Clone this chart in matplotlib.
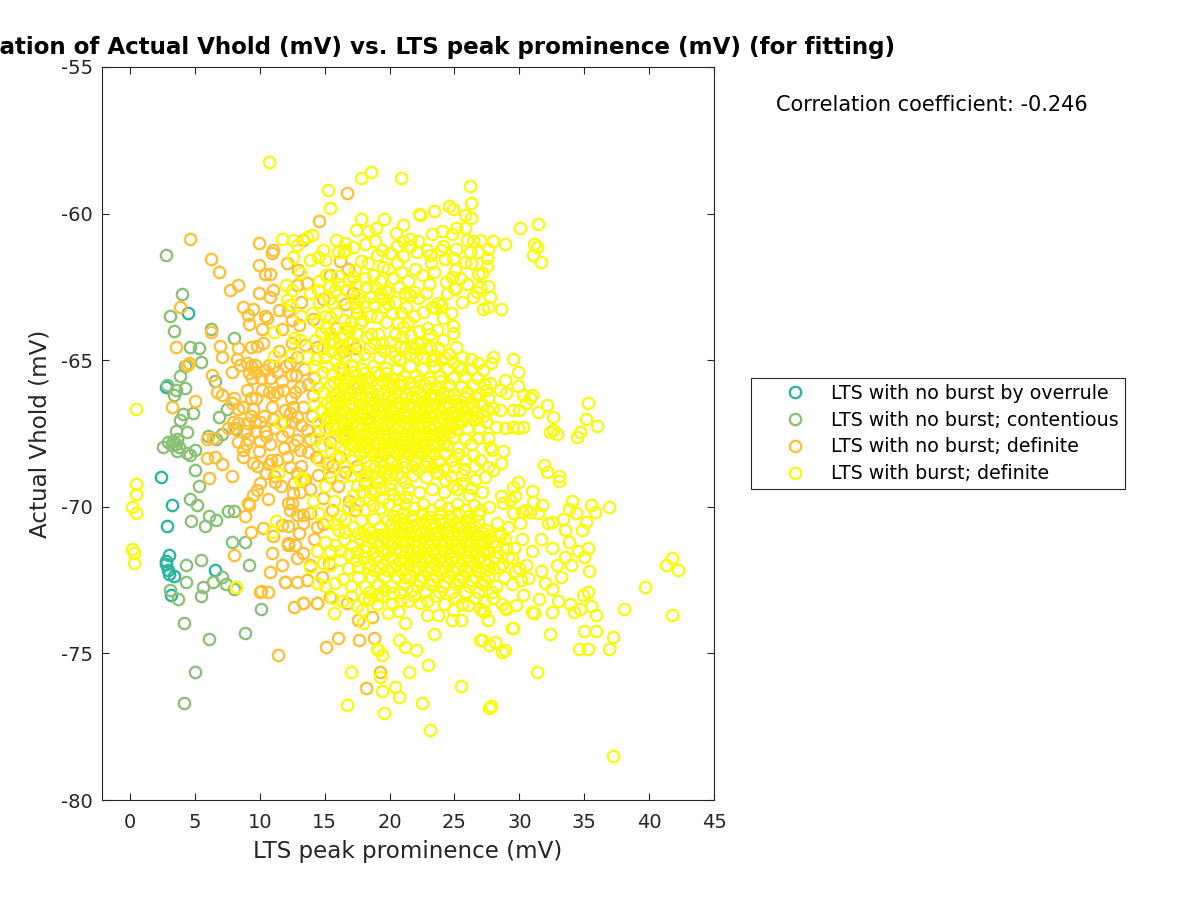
import matplotlib
matplotlib.use('Agg')
import matplotlib.pyplot as plt

plt.rcParams['axes.unicode_minus'] = False

# (LTS peak prominence, Actual Vhold), one list per group
overrule = [(4.5,-63.4),(2.8,-65.9),(2.4,-69.0),(3.2,-69.95),(2.85,-70.65),(3.0,-71.65),(2.75,-71.85),
            (2.8,-71.95),(2.9,-72.15),(3.0,-72.3),(3.4,-72.35),(6.55,-72.15),(3.15,-73.0)]

contentious = [(2.75,-61.4),(4.0,-62.75),(3.05,-63.5),(3.4,-64.0),(6.25,-63.95),(8.0,-64.25),(4.65,-64.55),
               (5.3,-64.6),(5.5,-65.05),(4.2,-65.2),(3.85,-65.55),(6.55,-65.7),(2.85,-65.85),(4.25,-65.95),
               (3.55,-66.0),(3.4,-66.2),(4.85,-66.8),(4.1,-66.85),(3.85,-67.05),(6.85,-66.95),(7.45,-66.65),
               (7.1,-67.5),(8.15,-67.35),(4.4,-67.45),(3.55,-67.4),(6.0,-67.6),(6.6,-67.7),(2.55,-67.95),
               (2.95,-67.8),(3.3,-67.75),(3.65,-67.7),(3.2,-67.9),(3.55,-67.85),(3.8,-67.95),(3.6,-68.1),
               (4.4,-68.15),(5.0,-68.05),(4.6,-68.25),(5.0,-68.75),(5.3,-69.3),(4.65,-69.75),(5.15,-69.95),
               (6.1,-70.3),(6.6,-70.45),(5.8,-70.65),(4.7,-70.5),(7.55,-70.15),(8.0,-70.15),(7.85,-71.2),
               (8.85,-71.2),(5.45,-71.8),(4.3,-72.0),(9.15,-72.0),(4.3,-72.55),(7.1,-72.4),(6.4,-72.55),
               (7.4,-72.65),(5.6,-72.75),(5.45,-73.05),(8.0,-72.8),(3.05,-72.85),(3.7,-73.15),(10.1,-73.5),
               (11.95,-72.55),(4.15,-73.95),(6.1,-74.5),(8.85,-74.3),(5.0,-75.65),(4.15,-76.7)]

definite_upper = [(4.65,-60.85),(9.95,-61.0),(11.0,-61.25),(10.95,-61.35),(6.25,-61.55),(6.85,-62.0),(9.95,-61.75),
                  (10.4,-62.05),(10.8,-62.05),(8.3,-62.45),(7.7,-62.6),(9.95,-62.7),(10.8,-62.85),(8.7,-63.2),
                  (9.5,-63.25),(3.85,-63.2),(10.4,-63.5),(10.55,-63.55),(9.1,-63.45),(9.15,-63.75),(10.15,-63.95),
                  (11.7,-63.95),(6.25,-64.05),(3.55,-64.55),(6.9,-64.5),(8.3,-64.6),(9.3,-64.55),(9.8,-64.5),
                  (10.25,-64.4),(7.1,-64.9),(8.25,-64.95),(8.5,-65.15),(4.55,-65.1),(4.4,-65.15),(7.85,-65.4),
                  (9.05,-65.1),(9.3,-65.2),(9.6,-65.15),(9.2,-65.45),(9.7,-65.4),(9.4,-65.6),(6.3,-65.5),
                  (10.7,-65.15),(10.4,-65.35),(11.0,-65.2),(11.3,-65.4),(10.8,-65.6),(12.4,-65.5),(12.97,-61.92),
                  (12.2,-63.32),(12.46,-63.63),(13.48,-64.48),(14.38,-64.54),(13.6,-62.38),(12.84,-62.44),
                  (12.33,-63.12),(15.4,-62.1),(16.7,-59.3),(14.6,-60.25),(16.2,-61.6),(16.8,-61.9),(17.2,-62.7),
                  (16.6,-63.1),(15.9,-63.9),(17.5,-63.4),(14.9,-62.9),(14.1,-63.6),(13.2,-63.0),(13.0,-63.8),
                  (17.3,-64.6),(16.4,-64.7)]
definite_lower = [(6.7,-66.1),(7.1,-66.2),(5.0,-66.4),(3.2,-66.6),(8.0,-66.3),(7.85,-66.45),(8.3,-66.65),(9.45,-66.65),
                  (10.95,-66.6),(7.9,-67.1),(7.55,-67.3),(8.3,-67.15),(8.0,-67.3),(9.0,-67.15),(9.6,-67.1),
                  (10.0,-67.1),(8.9,-67.4),(9.6,-67.4),(9.1,-67.7),(8.9,-67.85),(10.0,-67.75),(10.5,-67.6),(10.8,-67.85),
                  (5.9,-67.7),(6.4,-67.65),(5.95,-68.35),(6.55,-68.3),(7.1,-68.55),(8.7,-68.3),(9.5,-68.5),(10.9,-68.4),
                  (11.3,-68.4),(10.7,-68.55),(12.71,-66.07),(13.1,-65.9),(11.94,-66.7),(12.33,-66.81),(12.58,-66.59),
                  (13.6,-67.38),(12.84,-67.72),(13.74,-68.12),(6.11,-69.01),(7.89,-68.94),(10.02,-69.2),(9.76,-69.42),
                  (9.5,-69.59),(9.12,-69.88),(9.17,-69.93),(10.6,-69.72),(8.84,-70.3),(11.17,-69.14),(12.2,-69.88),
                  (12.58,-69.54),(12.46,-69.88),(12.33,-70.1),(12.84,-70.27),(13.35,-70.27),(13.35,-70.56),(12.2,-70.65),
                  (11.69,-70.62),(9.32,-70.85),(10.27,-70.73),(12.17,-71.24),(12.2,-71.3),(10.91,-71.56),(8.0,-71.64),
                  (11.74,-72.0),(10.76,-72.21),(12.84,-71.75),(13.35,-71.58),(13.87,-71.98),(12.84,-72.57),(11.94,-72.57),
                  (10.12,-72.86),(13.35,-73.27),(12.66,-73.41),(14.38,-73.29),(11.4,-75.05),(8.17,-72.72),(10.0,-72.9),
                  (15.08,-74.77),(16.05,-74.48),(17.67,-74.55),(18.8,-74.49),(19.26,-75.62),(18.16,-76.19),(17.6,-73.86),
                  (18.62,-73.77),(14.44,-73.27),(13.36,-73.27),(15.4,-73.06),(16.7,-73.29),(14.8,-72.4),(15.3,-71.9),
                  (14.2,-71.1),(14.9,-70.6),(15.6,-70.1),(13.9,-69.4),(14.5,-68.9),(15.2,-68.5),(13.2,-68.6),(12.1,-68.3),
                  (12.5,-67.1),(13.3,-66.6),(14.1,-66.2),(14.6,-67.4),(15.4,-67.8),(16.2,-68.3),(16.6,-68.8),(16.0,-69.3),
                  (16.9,-69.8),(11.6,-69.3),(13.0,-70.9),(11.2,-67.3),(11.7,-67.6),(12.0,-65.2),(13.4,-65.3),(14.2,-65.6),
                  (11.5,-64.7),(12.9,-64.9),(11.1,-66.2),(11.8,-66.0),(10.2,-66.0),(10.3,-66.9),(9.7,-66.3),(9.0,-66.0)]
definite_extra = [(12.4,-66.3),(12.9,-66.95),(13.2,-67.2),(12.2,-67.4),(12.6,-67.9),(13.1,-68.05),(11.9,-68.0),(12.3,-68.65),
                  (12.9,-68.85),(13.5,-69.05),(12.6,-69.2),(13.1,-69.5),(11.1,-68.95),(10.5,-68.85),(9.8,-68.6),(11.0,-67.0),
                  (10.1,-65.6),(10.7,-66.1),(9.3,-66.3),(8.7,-66.6),(9.3,-66.9),(8.3,-67.8),(8.7,-68.05),(11.7,-65.7),(12.3,-65.1),
                  (12.8,-65.5),(13.7,-65.8),(14.0,-66.9),(13.9,-67.7),(14.3,-68.3),(15.0,-67.0),(15.6,-68.6),(16.4,-65.3),(16.9,-67.4),
                  (17.5,-68.6),(18.1,-69.2),(17.3,-70.1),(13.9,-70.2),(14.4,-70.7),(12.7,-71.3),(13.6,-72.5),(11.0,-71.0),(10.6,-72.9),
                  (11.3,-66.1),(11.9,-67.1),(10.4,-67.4),(9.9,-68.1),(12.5,-64.4),(11.5,-63.3),(11.0,-62.6),(12.1,-61.7),(13.3,-60.9),
                  (15.4,-69.0),(14.9,-69.7),(16.4,-67.1),(17.6,-65.9),(18.3,-67.0),(15.9,-66.4)]

burst_top = [(18.6,-58.57),(17.8,-58.8),(20.85,-58.8),(15.25,-59.2),(15.4,-59.8),(26.2,-59.05),(26.3,-59.65),(10.7,-58.25),
             (22.3,-60.0),(22.35,-60.05),(23.4,-59.9),(24.55,-59.75),(24.9,-59.85),(25.8,-60.05),(26.3,-60.15),(30.05,-60.5),
             (31.45,-60.35),(31.1,-61.05),(31.35,-61.15),(31.05,-61.4),(31.65,-61.65),(28.9,-61.05),(27.95,-60.95),(27.6,-61.2),
             (26.95,-60.9),(17.8,-60.2),(19.55,-60.2),(17.45,-60.55),(18.95,-60.5),(18.3,-60.6),(21.0,-60.4),(20.5,-60.65),
             (23.25,-60.7),(24.05,-60.6),(24.8,-60.7),(25.15,-60.5),(25.8,-60.5),(15.85,-60.9),(18.1,-61.05),(17.2,-61.15),
             (16.55,-61.0),(16.45,-61.3),(18.9,-60.95),(19.4,-61.25),(20.0,-61.35),(20.55,-61.1),(21.05,-60.95),(21.6,-60.85),
             (22.2,-60.95),(21.6,-61.1),(22.1,-61.3),(21.05,-61.45),(22.85,-61.25),(23.1,-61.4),(24.15,-61.1),(24.0,-61.25),
             (24.25,-61.55),(24.9,-61.5),(25.15,-61.2),(25.95,-60.9),(26.45,-60.95),(26.2,-61.3),(26.85,-61.3),(27.5,-61.5),
             (25.8,-61.65),(26.3,-61.7),(27.5,-61.8),(21.95,-61.9),(23.4,-61.98),(25.05,-61.92),(24.8,-62.17),(24.35,-62.34),
             (24.95,-62.55),(25.05,-62.58),(27.15,-62.04),(26.85,-62.06),(26.95,-62.49),(27.6,-62.47),(26.45,-62.83),(26.7,-62.66),
             (27.75,-62.83),(27.2,-63.26),(27.6,-63.2),(28.55,-63.26),(21.3,-63.2),(21.2,-62.7),(21.85,-62.66),(21.6,-62.78),
             (22.2,-62.89),(22.6,-63.34),(23.25,-63.17),(23.75,-63.04),(23.5,-63.23),(23.95,-63.12),(24.7,-63.4),(24.15,-63.57),
             (24.85,-63.82),(23.65,-63.97),(24.9,-64.08),(24.15,-64.31),(25.15,-64.54),(23.1,-64.54),(20.3,-62.18),(19.5,-61.81),
             (19.65,-62.6),(19.9,-62.66),(19.25,-62.72),(18.5,-62.83),(17.7,-63.74),(19.0,-63.52),(19.75,-63.69),(20.65,-63.74),
             (21.05,-63.86),(21.6,-64.14),(20.95,-64.2),(20.05,-64.37),(19.4,-64.42),(22.1,-64.42),(22.45,-64.4),(16.05,-62.13),
             (15.4,-62.47),(17.2,-62.15),(17.45,-62.44),(18.1,-62.2),(17.35,-61.92),(16.55,-61.24),(15.05,-61.58),(14.9,-61.24),
             (14.5,-61.47),(13.9,-61.58),(14.0,-60.73),(15.55,-63.06),(15.4,-63.52),(16.45,-63.63),(17.45,-63.17),(17.6,-63.4),
             (17.85,-63.63),(14.5,-62.6),(13.87,-62.72),(14.0,-63.4),(14.75,-64.08),(15.4,-64.08),(16.45,-64.14),(14.25,-64.31),
             (11.69,-60.88),(12.58,-60.9),(13.6,-60.79),(12.84,-61.07),(12.53,-61.49),(12.02,-62.44),(12.46,-62.61),(12.07,-62.95),
             (12.38,-63.12),(13.1,-62.04),(11.1,-64.03),(12.66,-64.24),(11.1,-64.86),(12.38,-64.82),(13.1,-64.3),(18.6,-64.1),
             (17.2,-64.4),(18.0,-64.8),(19.2,-64.9),(20.1,-64.7),(20.7,-65.0),(21.6,-64.8),(22.6,-64.9),(23.5,-64.85),(24.6,-64.8),
             (25.6,-64.9),(26.3,-64.95),(26.8,-65.1),(18.8,-63.1),(18.2,-62.5),(20.4,-63.0),(20.2,-63.4),(22.9,-63.9),(23.0,-62.4)]

burst_top_extra = [(15.1,-62.1),(15.8,-62.6),(16.3,-62.9),(16.9,-62.3),(14.6,-63.0),(15.0,-63.5),(15.9,-63.4),(16.2,-64.5),(14.9,-64.6),
                   (15.5,-64.7),(16.9,-64.0),(17.4,-64.85),(18.2,-64.2),(18.5,-63.5),(19.1,-64.1),(19.6,-63.2),(19.3,-62.3),(20.7,-62.5),
                   (20.9,-63.4),(20.4,-64.1),(21.4,-63.7),(21.9,-63.5),(22.3,-64.0),(22.0,-64.9),(23.1,-64.1),(23.7,-64.6),(24.2,-64.9),
                   (18.0,-63.0),(18.7,-62.1),(19.9,-61.9),(17.0,-63.7),(13.2,-63.5),(13.6,-64.9),(14.3,-64.95),(15.9,-65.0),(16.6,-64.9),
                   (22.5,-62.1),(23.2,-61.7),(22.8,-62.7),(24.4,-62.7),(25.4,-62.2),(26.0,-62.4),(25.6,-63.0)]

burst_core_up = [(27.94,-64.88),(27.78,-65.11),(29.53,-64.97),(29.86,-65.39),(28.89,-65.68),(27.73,-65.79),(29.86,-65.88),
                 (30.3,-66.19),(30.94,-66.19),(30.81,-66.3),(32.1,-66.53),(31.45,-66.76),(35.3,-66.45),(32.56,-66.95),(35.13,-67.02),
                 (35.95,-67.24),(34.66,-67.44),(34.48,-67.61),(32.61,-67.38),(32.35,-67.46),(32.92,-67.53),(30.25,-67.27),(29.91,-67.3),
                 (29.53,-67.27),(28.89,-67.3),(28.19,-67.27),(29.99,-66.7),(29.53,-66.7),(30.55,-66.47),(28.5,-66.7),(27.99,-66.64),
                 (29.01,-66.13),(28.5,-66.02),(15.1,-65.2),(15.6,-65.5),(16.1,-65.25),(16.6,-65.6),(17.0,-65.15),(17.4,-65.55),(17.9,-65.3),
                 (18.3,-65.6),(18.7,-65.2),(19.2,-65.5),(19.7,-65.25),(20.2,-65.6),(20.6,-65.3),(21.1,-65.55),(21.6,-65.2),(22.0,-65.5),
                 (22.5,-65.3),(23.0,-65.6),(23.4,-65.2),(23.9,-65.55),(24.4,-65.3),(24.9,-65.6),(25.3,-65.2),(25.8,-65.55),(26.3,-65.3),
                 (26.7,-65.6),(27.2,-65.35),(14.4,-65.9),(14.9,-66.1),(15.4,-65.85),(15.9,-66.15),(16.3,-65.9),(16.8,-66.1),(17.2,-65.8),
                 (17.7,-66.15),(18.1,-65.9),(18.6,-66.1),(19.0,-65.85),(19.5,-66.15),(20.0,-65.9),(20.4,-66.1),(20.9,-65.85),(21.3,-66.15),
                 (21.8,-65.9),(22.3,-66.1),(22.7,-65.85),(23.2,-66.15),(23.6,-65.9),(24.1,-66.1),(24.6,-65.85),(25.0,-66.15),(25.5,-65.9),
                 (26.0,-66.1),(26.4,-65.85),(26.9,-66.15),(27.4,-66.0),(14.2,-66.5),(14.7,-66.7),(15.2,-66.45),(15.6,-66.75),(16.1,-66.5),
                 (16.5,-66.7),(17.0,-66.45),(17.5,-66.75),(17.9,-66.5),(18.4,-66.7),(18.8,-66.45),(19.3,-66.75),(19.8,-66.5),(20.2,-66.7),
                 (20.7,-66.45),(21.1,-66.75),(21.6,-66.5),(22.1,-66.7),(22.5,-66.45),(23.0,-66.75),(23.4,-66.5),(23.9,-66.7),(24.4,-66.45),
                 (24.8,-66.75),(25.3,-66.5),(25.7,-66.7),(26.2,-66.45),(26.7,-66.75),(27.1,-66.5),(27.6,-66.3),(14.5,-67.1),(15.0,-67.3),
                 (15.4,-67.05),(15.9,-67.35),(16.3,-67.1),(16.8,-67.3),(17.3,-67.05),(17.7,-67.35),(18.2,-67.1),(18.6,-67.3),(19.1,-67.05),
                 (19.6,-67.35),(20.0,-67.1),(20.5,-67.3),(20.9,-67.05),(21.4,-67.35),(21.9,-67.1),(22.3,-67.3),(22.8,-67.05),(23.2,-67.35),
                 (23.7,-67.1),(24.2,-67.3),(24.6,-67.05),(25.1,-67.35),(25.5,-67.1),(26.0,-67.3),(26.5,-67.05),(26.9,-67.3),(27.4,-67.1),
                 (14.3,-67.7),(14.8,-67.9),(15.7,-67.65),(16.1,-67.95),(16.6,-67.7),(17.1,-67.9),(17.5,-67.65),(18.0,-67.95),(18.4,-67.7),
                 (18.9,-67.9),(19.4,-67.65),(19.8,-67.95),(20.3,-67.7),(20.7,-67.9),(21.2,-67.65),(21.7,-67.95),(22.1,-67.7),(22.6,-67.9),
                 (23.0,-67.65),(23.5,-67.95),(24.0,-67.7),(24.4,-67.9),(24.9,-67.65),(25.3,-67.95),(25.8,-67.7),(26.3,-67.85),(26.8,-67.65),
                 (17.2,-68.4),(17.7,-68.2),(18.2,-68.45),(18.7,-68.2),(19.2,-68.45),(19.6,-68.2),(20.1,-68.45),(20.6,-68.2),(21.0,-68.45),
                 (21.5,-68.2),(22.0,-68.45),(22.4,-68.2),(22.9,-68.45),(23.4,-68.2),(23.8,-68.45),(24.3,-68.2),(24.8,-68.4),(25.3,-68.2),
                 (25.8,-68.4),(26.4,-68.25)]

# solid part of the upper blob
burst_solid_up = [(15.7,-65.75),(16.1,-65.7),(16.5,-65.8),(16.9,-65.65),(17.3,-65.75),(17.8,-65.65),(18.2,-65.75),(18.6,-65.7),(19.1,-65.8),
                  (19.5,-65.7),(19.9,-65.75),(20.3,-65.8),(15.5,-66.25),(16.0,-66.3),(16.4,-66.2),(16.9,-66.3),(17.3,-66.25),(17.7,-66.35),
                  (18.2,-66.25),(18.6,-66.3),(19.0,-66.2),(19.4,-66.35),(19.9,-66.25),(20.3,-66.3),(20.8,-66.2),(21.2,-66.3),(21.7,-66.25),
                  (22.1,-66.35),(22.6,-66.25),(23.1,-66.3),(23.5,-66.2),(24.0,-66.3),(24.5,-66.2),(15.4,-66.6),(15.9,-66.55),(16.3,-66.65),
                  (16.8,-66.55),(17.2,-66.6),(17.7,-66.55),(18.1,-66.6),(18.6,-66.55),(19.0,-66.65),(19.5,-66.55),(20.0,-66.6),(20.4,-66.55),
                  (20.9,-66.6),(21.4,-66.55),(21.8,-66.6),(22.3,-66.55),(22.8,-66.6),(23.2,-66.55),(23.7,-66.6),(24.2,-66.55),(24.6,-66.6),
                  (25.1,-66.6),(25.5,-66.55),(26.0,-66.6),(26.4,-66.55),(15.2,-66.9),(15.7,-66.95),(16.2,-66.85),(16.6,-66.95),(17.1,-66.9),
                  (17.5,-66.95),(18.0,-66.85),(18.4,-66.95),(18.9,-66.9),(19.3,-66.95),(19.8,-66.85),(20.3,-66.95),(20.7,-66.9),(21.2,-66.95),
                  (21.6,-66.85),(22.1,-66.95),(22.6,-66.9),(23.0,-66.95),(23.5,-66.85),(23.9,-66.95),(24.4,-66.9),(24.9,-66.95),(25.3,-66.85),
                  (25.8,-66.95),(26.3,-66.9),(26.7,-66.95),(15.6,-67.2),(16.0,-67.25),(16.5,-67.2),(17.0,-67.15),(17.4,-67.25),(17.9,-67.2),
                  (18.4,-67.15),(18.8,-67.25),(19.3,-67.2),(19.8,-67.15),(20.2,-67.25),(20.7,-67.2),(21.2,-67.15),(21.6,-67.25),(22.1,-67.2),
                  (22.5,-67.15),(23.0,-67.25),(23.5,-67.2),(23.9,-67.15),(24.4,-67.25),(24.8,-67.2),(25.3,-67.15),(16.3,-67.5),(16.7,-67.55),
                  (17.2,-67.45),(17.7,-67.55),(18.1,-67.5),(18.6,-67.55),(19.0,-67.45),(19.5,-67.55),(19.9,-67.5),(20.4,-67.55),(20.9,-67.45),
                  (21.3,-67.55),(21.8,-67.5),(22.2,-67.55),(22.7,-67.45),(23.2,-67.55),(23.6,-67.5),(24.1,-67.55),(24.6,-67.45),(16.9,-67.85),
                  (17.4,-67.8),(17.8,-67.85),(18.2,-67.8),(18.7,-67.85),(19.1,-67.8),(19.6,-67.85),(20.1,-67.8),(20.5,-67.85),(21.0,-67.8),
                  (21.4,-67.85),(21.9,-67.8),(22.4,-67.85),(22.8,-67.8),(23.3,-67.85),(23.7,-67.8),(24.2,-67.8),(18.0,-68.1),(18.5,-68.1),
                  (19.0,-68.05),(19.4,-68.1),(19.9,-68.05),(20.3,-68.1),(20.8,-68.05),(21.3,-68.1),(21.7,-68.05),(22.2,-68.1),(22.7,-68.05),
                  (23.1,-68.1),(18.4,-68.6),(18.9,-68.65),(19.5,-68.6),(20.0,-68.7),(20.5,-68.6),(21.1,-68.65),(21.7,-68.6),(22.2,-68.7),
                  (22.7,-68.6),(23.3,-68.65),(16.3,-65.45),(17.2,-65.4),(18.0,-65.45),(18.9,-65.4),(19.7,-65.45),(20.8,-65.7),(21.5,-65.75),
                  (22.3,-65.7),(23.1,-65.75),(23.9,-65.7),(27.5,-66.7),(27.3,-65.8),(26.6,-66.25),(27.2,-66.9),(25.0,-66.35),(25.8,-66.3)]

# rest of the dense area around the two blobs
burst_fill = [(17.6,-68.75),(18.1,-69.1),(18.6,-68.9),(19.1,-69.15),(19.6,-68.85),(20.1,-69.2),(20.6,-68.85),(21.2,-69.15),(17.9,-69.5),(18.4,-69.75),
              (18.9,-69.45),(19.5,-69.7),(20.0,-69.4),(20.7,-69.75),(21.3,-69.65),(17.2,-69.6),(16.6,-68.6),(15.9,-68.3),(16.5,-68.05),(15.5,-68.1),
              (15.0,-64.9),(15.6,-64.3),(16.1,-64.8),(16.8,-64.4),(17.5,-64.1),(18.4,-64.6),(18.8,-64.4),(19.6,-64.7),(20.4,-64.85),(20.8,-64.5),
              (21.2,-64.6),(21.9,-64.6),(22.8,-64.6),(23.3,-65.0),(24.0,-65.0),(24.9,-65.05),(25.5,-65.3),(14.8,-65.4),(14.2,-65.2),(15.3,-64.4),
              (14.6,-62.3),(15.3,-62.9),(16.0,-62.4),(16.7,-62.6),(17.6,-62.9),(14.4,-63.7),(15.1,-63.9),(15.7,-64.4),(16.6,-63.9),(17.3,-63.0),
              (18.9,-62.5),(19.4,-62.9),(19.9,-63.1),(18.3,-61.7),(19.0,-61.4),(17.8,-61.6),(16.0,-61.3),(20.6,-61.7),(21.4,-62.3),(20.9,-62.0),
              (21.2,-72.4),(21.7,-72.85),(22.3,-72.5),(22.7,-72.9),(23.3,-72.5),(23.8,-72.9),(24.3,-72.55),(24.8,-72.9),(25.3,-72.5),(25.8,-72.9),
              (26.3,-72.5),(26.8,-72.9),(27.3,-72.5),(27.9,-72.9),(18.4,-72.9),(19.0,-73.0),(19.6,-72.85),(20.3,-72.95),(20.8,-72.9),(18.0,-73.1),
              (28.5,-71.0),(29.0,-71.4),(28.4,-72.05),(29.1,-71.7),(29.7,-72.2),(28.5,-70.9),(20.3,-70.3),(21.0,-70.2),(21.7,-70.3),(22.5,-70.2),
              (23.1,-70.35),(23.9,-70.2),(24.6,-70.3),(25.3,-70.2),(26.1,-70.3),(26.8,-70.25),(24.3,-69.1),(24.9,-69.3),(25.6,-69.2),(26.3,-69.35),
              (23.6,-68.8),(24.2,-68.7),(25.0,-68.65),(25.7,-68.7),(26.5,-68.6),(27.0,-68.4),(16.2,-70.3),(15.7,-70.6),(15.4,-71.5),(14.9,-71.9)]

burst_mid = [(27.6,-67.67),(27.73,-67.95),(27.86,-68.06),(28.71,-68.09),(28.55,-68.52),(27.99,-68.75),(27.6,-68.63),(27.35,-68.97),
             (31.92,-68.57),(32.1,-68.8),(33.07,-68.94),(33.07,-69.11),(29.86,-69.17),(29.53,-69.31),(30.94,-69.45),(29.66,-69.62),
             (28.55,-69.62),(0.46,-66.66),(11.56,-67.13),(0.46,-69.22),(0.46,-69.57),(0.13,-69.99),(0.46,-70.22),(11.25,-70.47),
             (10.91,-70.87),(13.1,-69.08),(13.23,-69.02),(11.43,-68.85),(14.12,-69.8),(14.5,-70.22),(14.6,-68.4),(15.3,-68.8),(15.0,-69.3),
             (15.7,-69.8),(16.3,-69.0),(17.0,-68.9),(17.5,-69.3),(18.1,-68.9),(18.5,-69.5),(19.0,-69.0),(19.4,-69.4),(20.0,-68.9),
             (20.3,-69.6),(20.9,-69.0),(21.4,-69.4),(21.8,-68.9),(22.3,-69.5),(22.8,-69.0),(23.3,-69.4),(23.7,-68.85),(24.2,-69.5),
             (24.7,-68.95),(25.2,-69.4),(25.6,-68.9),(26.1,-69.6),(26.6,-69.1),(27.1,-69.5),(16.8,-70.0),(17.4,-69.9),(18.0,-70.1),
             (18.7,-69.95),(19.3,-70.05),(19.9,-69.9),(20.6,-70.1),(21.2,-69.9),(21.9,-70.05),(22.6,-69.9),(23.2,-70.1),(23.9,-69.95),
             (24.5,-70.05),(25.2,-69.9),(25.8,-70.1),(26.5,-69.95),(27.0,-70.1),(27.7,-70.0)]

burst_core_low = [(28.76,-69.88),(29.27,-69.77),(29.53,-70.22),(30.17,-70.17),(30.55,-70.11),(31.71,-69.94),(31.45,-70.22),(30.81,-70.17),
                  (31.07,-69.83),(34.02,-69.79),(33.84,-70.08),(34.36,-70.22),(35.49,-69.94),(35.82,-70.17),(36.9,-70.02),(35.13,-70.51),
                  (33.38,-70.43),(32.48,-70.51),(32.22,-70.56),(33.5,-70.79),(34.79,-70.79),(30.04,-70.56),(29.14,-70.68),(28.24,-70.56),
                  (15.2,-70.5),(16.0,-70.8),(16.6,-70.4),(17.2,-70.7),(17.8,-70.45),(18.3,-70.75),(18.8,-70.4),(19.3,-70.7),(19.8,-70.45),
                  (20.3,-70.75),(20.8,-70.4),(21.3,-70.7),(21.8,-70.45),(22.3,-70.75),(22.8,-70.4),(23.3,-70.7),(23.8,-70.45),(24.3,-70.75),
                  (24.8,-70.4),(25.3,-70.7),(25.8,-70.45),(26.3,-70.75),(26.8,-70.5),(27.4,-70.8),(15.0,-71.2),(15.8,-71.3),(16.5,-71.1),
                  (17.1,-71.35),(17.7,-71.1),(18.2,-71.35),(18.6,-71.05),(19.1,-71.3),(19.6,-71.05),(20.1,-71.35),(20.6,-71.05),(21.1,-71.3),
                  (21.6,-71.05),(22.1,-71.35),(22.6,-71.05),(23.1,-71.3),(23.6,-71.05),(24.1,-71.35),(24.6,-71.05),(25.1,-71.3),(25.6,-71.05),
                  (26.1,-71.35),(26.6,-71.05),(27.1,-71.3),(27.6,-71.1),(28.2,-71.3),(28.9,-71.1),(29.6,-71.4),(30.2,-71.1),(18.0,-71.75),
                  (18.5,-71.95),(19.0,-71.7),(19.5,-71.95),(20.0,-71.7),(20.5,-71.95),(21.0,-71.7),(21.5,-71.95),(22.0,-71.7),(22.5,-71.95),
                  (23.0,-71.7),(23.5,-71.95),(24.0,-71.7),(24.5,-71.95),(25.0,-71.7),(25.5,-71.95),(26.0,-71.7),(26.5,-71.95),(27.0,-71.7),
                  (27.5,-71.95),(28.1,-71.7),(28.7,-71.95),(29.4,-71.75),(30.0,-72.1),(14.38,-71.5),(13.87,-72.04),(14.38,-72.6),(15.4,-72.0),
                  (16.2,-71.8),(16.8,-72.1),(17.4,-71.8),(15.0,-72.7),(15.8,-72.6),(16.4,-72.45),(17.0,-72.7),(17.6,-72.4),(18.1,-72.7),
                  (18.6,-72.4),(19.1,-72.65),(19.6,-72.4),(20.1,-72.7),(20.6,-72.4),(21.1,-72.65),(21.6,-72.4),(22.1,-72.7),(22.6,-72.4),
                  (23.1,-72.65),(23.6,-72.4),(24.1,-72.7),(24.6,-72.4),(25.1,-72.65),(25.6,-72.4),(26.1,-72.7),(26.6,-72.4),(27.1,-72.65),
                  (27.6,-72.4),(28.2,-72.7),(28.8,-72.4),(29.4,-72.65),(30.1,-72.5)]

# solid part of the lower blob
burst_solid_low = [(20.2,-70.6),(20.7,-70.65),(21.2,-70.55),(21.7,-70.65),(22.1,-70.6),(22.6,-70.55),(23.1,-70.6),(23.6,-70.65),(24.1,-70.55),
                   (24.6,-70.6),(25.1,-70.55),(25.6,-70.65),(26.1,-70.55),(26.6,-70.7),(19.7,-70.9),(20.2,-70.95),(20.7,-70.85),(21.1,-70.95),
                   (21.6,-70.9),(22.0,-70.95),(22.5,-70.85),(23.0,-70.95),(23.4,-70.9),(23.9,-70.95),(24.4,-70.85),(24.8,-70.95),(25.3,-70.9),
                   (25.8,-70.95),(26.2,-70.85),(26.7,-70.95),(27.2,-70.9),(27.7,-70.95),(19.3,-71.15),(19.8,-71.2),(20.3,-71.2),(20.8,-71.2),
                   (21.3,-71.15),(21.8,-71.2),(22.3,-71.2),(22.8,-71.2),(23.3,-71.15),(23.8,-71.2),(24.3,-71.15),(24.8,-71.2),(25.3,-71.15),
                   (25.8,-71.2),(26.3,-71.15),(26.8,-71.2),(27.3,-71.15),(27.9,-71.2),(19.4,-71.5),(19.9,-71.5),(20.4,-71.45),(20.8,-71.55),
                   (21.3,-71.5),(21.8,-71.5),(22.2,-71.55),(22.7,-71.45),(23.2,-71.5),(23.7,-71.55),(24.2,-71.5),(24.7,-71.5),(25.2,-71.45),
                   (25.7,-71.55),(26.2,-71.5),(26.7,-71.5),(27.2,-71.5),(27.7,-71.5),(28.3,-71.55),(20.3,-71.75),(20.8,-71.85),(21.2,-71.8),
                   (21.7,-71.75),(22.3,-71.8),(22.7,-71.75),(23.2,-71.85),(23.7,-71.8),(24.3,-71.8),(24.7,-71.75),(25.2,-71.85),(25.7,-71.8),
                   (26.2,-71.8),(26.8,-71.8),(27.3,-71.8),(21.3,-72.1),(21.8,-72.15),(22.3,-72.1),(22.8,-72.15),(23.3,-72.1),(23.8,-72.15),
                   (24.3,-72.1),(24.8,-72.15),(25.3,-72.1),(25.8,-72.15),(26.3,-72.1),(26.8,-72.15),(18.3,-72.1),(18.8,-72.15),(19.3,-72.1),
                   (19.8,-72.15),(20.3,-72.1),(20.8,-72.15),(17.6,-72.05),(27.4,-72.15),(28.0,-72.1),(17.6,-70.9),(18.1,-70.95),(18.6,-70.85),
                   (19.1,-70.95),(16.6,-70.85),(16.2,-71.5),(16.9,-71.6),(17.5,-71.55),(18.1,-71.5),(18.7,-71.55)]

burst_low = [(15.75,-73.63),(21.19,-73.97),(23.45,-74.33),(29.54,-74.14),(31.13,-73.63),(27.6,-73.86),(27.15,-74.56),(28.12,-74.62),
             (28.89,-74.9),(20.73,-74.54),(21.19,-74.77),(22.0,-74.9),(19.0,-74.86),(19.13,-74.88),(19.44,-75.05),(22.94,-75.41),(21.5,-75.62),
             (17.0,-75.62),(19.26,-75.79),(31.38,-75.62),(25.53,-76.11),(19.39,-76.27),(20.42,-76.16),(20.73,-76.47),(22.47,-76.68),(16.7,-76.76),
             (19.57,-77.04),(27.79,-76.81),(23.12,-77.61),(17.98,-73.97),(19.9,-73.63),(20.68,-73.57),(22.91,-73.69),(23.76,-73.69),(24.78,-73.86),
             (25.53,-73.86),(27.22,-73.57),(28.89,-73.46),(29.74,-73.34),(30.69,-72.44),(26.07,-73.34),(24.91,-73.52),(22.35,-73.29),(20.8,-73.17),
             (17.85,-73.52),(17.47,-73.4),(0.13,-71.43),(0.33,-71.58),(0.33,-71.92),(8.17,-72.72),(15.6,-73.1),(16.3,-73.2),(17.0,-73.05),(18.4,-73.15),
             (19.0,-73.3),(19.4,-73.05),(20.2,-73.3),(21.4,-73.2),(21.9,-73.05),(22.9,-73.2),(23.5,-73.05),(24.2,-73.3),(25.1,-73.1),(25.6,-73.3),
             (26.6,-73.1),(27.3,-73.25),(28.0,-73.1),(41.3,-72.0),(41.8,-71.75),(42.2,-72.15),(41.8,-73.7),(39.65,-72.75),(38.05,-73.5),(37.2,-78.5),
             (37.2,-74.45),(36.9,-74.85),(35.9,-74.25),(35.3,-74.85),(35.0,-74.25),(34.6,-74.85),(35.9,-73.7),(35.5,-73.4),(34.7,-73.5),(35.3,-72.9),
             (34.9,-73.0),(35.4,-72.2),(35.0,-71.7),(35.3,-71.4),(34.5,-71.5),(34.0,-72.0),(33.8,-71.2),(33.5,-71.7),(33.2,-72.4),(32.5,-72.8),
             (33.0,-73.2),(32.4,-74.35),(32.5,-73.6),(33.9,-73.3),(34.2,-73.6),(32.0,-72.6),(31.5,-73.15),(31.7,-72.2),(31.0,-73.6),(30.3,-73.0),
             (30.5,-72.0),(31.0,-71.5),(31.7,-71.1),(32.5,-71.4),(32.9,-72.0),(29.4,-74.15),(28.7,-74.95),(27.7,-74.7),(27.0,-74.55),(27.7,-76.85),
             (28.7,-73.3),(29.0,-73.5),(27.3,-73.6),(27.0,-73.5)]

definite = definite_upper + definite_lower + definite_extra
burst = burst_top + burst_top_extra + burst_core_up + burst_solid_up + burst_fill + burst_mid + burst_core_low + burst_solid_low + burst_low

groups = [(overrule, '#2ab5a0', 'LTS with no burst by overrule'),
          (contentious, '#89c176', 'LTS with no burst; contentious'),
          (definite, '#ffc133', 'LTS with no burst; definite'),
          (burst, '#fafa0a', 'LTS with burst; definite')]

x_ticks = [0, 5, 10, 15, 20, 25, 30, 35, 40, 45]
y_ticks = [-80, -75, -70, -65, -60, -55]
dark = '#262626'

fig = plt.figure(figsize=(12, 9), dpi=100)
ax = fig.add_axes([102/1200, 1 - 800/900, 612/1200, 733/900])

for pts, color, label in groups:
    xs = [p[0] for p in pts]
    ys = [p[1] for p in pts]
    ax.plot(xs, ys, linestyle='none', marker='o', ms=8.2, mew=1.65, mfc='none', mec=color, label=label)

ax.set_xlim(-2.16, 45)
ax.set_ylim(-80, -55)
ax.set_xticks(x_ticks)
ax.set_yticks(y_ticks)
ax.tick_params(direction='in', top=True, right=True, length=5.2, width=0.8, color=dark, labelcolor=dark, labelsize=14)
ax.tick_params(axis='x', pad=9)
ax.tick_params(axis='y', pad=6.5)
for s in ax.spines.values():
    s.set_color(dark)
    s.set_linewidth(0.8)

ax.set_xlabel('LTS peak prominence (mV)', fontsize=16.6, color=dark, labelpad=6)
ax.set_ylabel('Actual Vhold (mV)', fontsize=16.6, color=dark, labelpad=7)
ax.set_title('Correlation of Actual Vhold (mV) vs. LTS peak prominence (mV) (for fitting)',
             fontsize=16.6, fontweight='bold', color='black', pad=9.5)

fig.text(776/1200, 1 - 105/900, 'Correlation coefficient: -0.246', fontsize=15.05, color='black', va='center')

leg = fig.legend(loc='center left', bbox_to_anchor=(751/1200, 1 - 433.5/900), fontsize=13.65, frameon=True, fancybox=False,
                 edgecolor=dark, framealpha=1, borderaxespad=0, borderpad=0.32, labelspacing=0.41,
                 handlelength=4.0, handletextpad=-0.1)
leg.get_frame().set_linewidth(0.8)

fig.savefig('out.png', dpi=100)
